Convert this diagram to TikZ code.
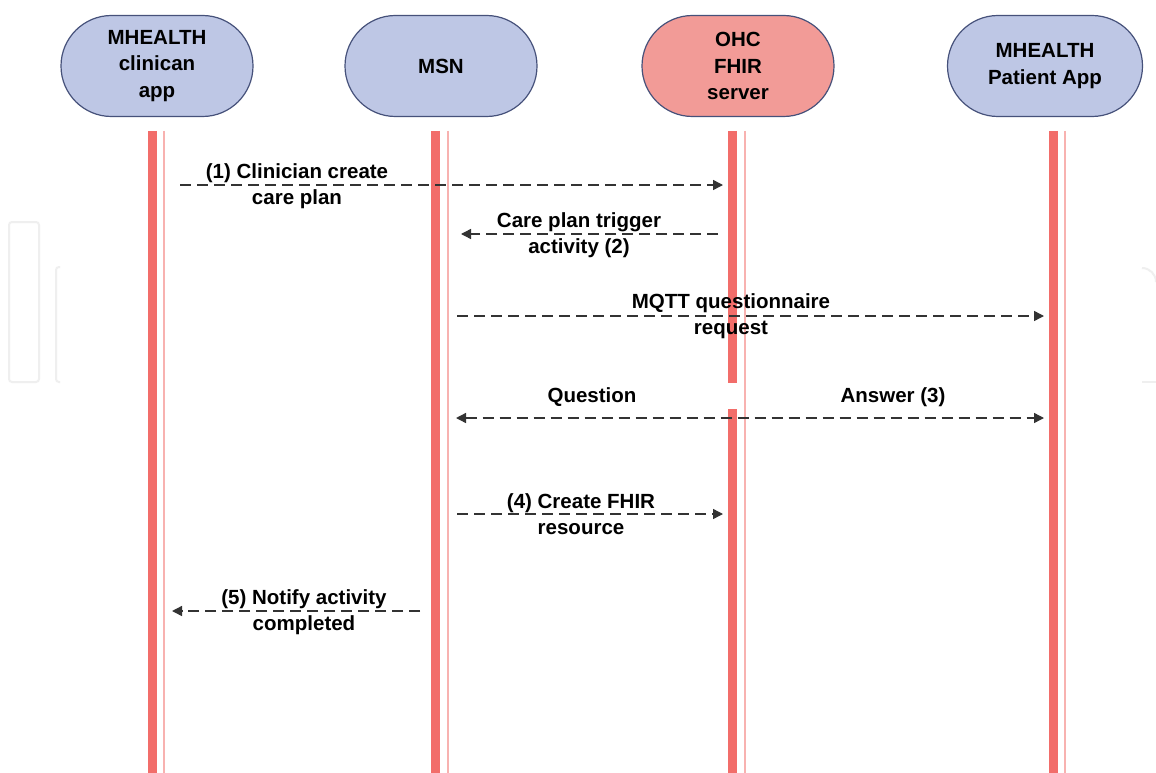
\documentclass[tikz,border=0pt]{standalone}
\usepackage{fontspec}
\setmainfont{Liberation Sans}
\usetikzlibrary{arrows.meta,shapes.misc}
\definecolor{hdrblue}{HTML}{BEC7E5}
\definecolor{hdrred}{HTML}{F29B97}
\definecolor{hdrline}{HTML}{46517A}
\definecolor{lifered}{HTML}{F26D6A}
\definecolor{lifethin}{HTML}{F8B2B0}
\definecolor{msgline}{HTML}{333333}
\definecolor{wmark}{HTML}{EFEFEF}
\tikzset{
  hdr/.style={rounded rectangle, draw=hdrline, line width=1.2pt, minimum width=192pt, minimum height=101pt, inner sep=0pt, align=center, font=\bfseries\fontsize{20.5}{26.5}\selectfont, text=black},
  lifebar/.style={draw=lifered, line width=9pt},
  lifeline/.style={draw=lifethin, line width=1.8pt},
  msg/.style={draw=msgline, line width=1.4pt, dash pattern=on 11pt off 6pt, -{Triangle[length=10pt,width=10pt]}},
  msgtwo/.style={draw=msgline, line width=1.4pt, dash pattern=on 11pt off 6pt, {Triangle[length=10pt,width=10pt]}-{Triangle[length=10pt,width=10pt]}},
  lbl/.style={align=center, font=\bfseries\fontsize{20.5}{26}\selectfont, text=black, inner sep=0pt},
}
\begin{document}
\begin{tikzpicture}[x=1pt,y=-1pt]
\useasboundingbox (0,0) rectangle (1156,773);
\fill[white] (0,0) rectangle (1156,773);
% faint watermark shapes
\draw[wmark, line width=2pt, rounded corners=3pt] (9,222) rectangle (39,382);
\draw[wmark, line width=2pt, rounded corners=3pt] (60,382) -- (56,382) -- (56,267) -- (60,267);
\draw[wmark, line width=2pt] (1142,268) arc[start angle=90, end angle=0, radius=14pt];
\draw[wmark, line width=2pt] (1142,382) -- (1156,382);
% headers
\node[hdr, fill=hdrblue] (c) at (157,66) {MHEALTH\\clinican\\app};
\node[hdr, fill=hdrblue] (m) at (441,66) {MSN};
\node[hdr, fill=hdrred] (o) at (738,66) {OHC\\FHIR\\server};
\node[hdr, fill=hdrblue, minimum width=195pt] (p) at (1045,66) {MHEALTH\\Patient App};
% lifelines
\coordinate (c1) at (152,131); \coordinate (c2) at (152,773);
\coordinate (m1) at (435.5,131); \coordinate (m2) at (435.5,773);
\coordinate (o1) at (732.5,131); \coordinate (o2) at (732.5,773);
\coordinate (p1) at (1053,131); \coordinate (p2) at (1053,773);
\draw[lifebar] (c1) -- (c2);
\draw[lifeline] ([xshift=12pt]c1) -- ([xshift=12pt]c2);
\draw[lifebar] (m1) -- (m2);
\draw[lifeline] ([xshift=12.5pt]m1) -- ([xshift=12.5pt]m2);
\draw[lifebar] (o1) -- ([yshift=-252pt]o1);
\draw[lifebar] ([yshift=-278pt]o1) -- (o2);
\draw[lifeline] ([xshift=12.5pt]o1) -- ([xshift=12.5pt]o2);
\draw[lifebar] (p1) -- (p2);
\draw[lifeline] ([xshift=12pt]p1) -- ([xshift=12pt]p2);
% message end points
\coordinate (a1s) at (180,185); \coordinate (a1e) at (723,185);
\coordinate (a2s) at (718,234); \coordinate (a2e) at (461,234);
\coordinate (a3s) at (457,316); \coordinate (a3e) at (1044,316);
\coordinate (a4s) at (456,418); \coordinate (a4e) at (1044,418);
\coordinate (a5s) at (457,514); \coordinate (a5e) at (723,514);
\coordinate (a6s) at (420,611); \coordinate (a6e) at (172,611);
% messages
\draw[msg] (a1s) -- (a1e);
\draw[msg] (a2s) -- (a2e);
\draw[msg] (a3s) -- (a3e);
\draw[msgtwo] (a4s) -- (a4e);
\draw[msg] (a5s) -- (a5e);
\draw[msg] (a6s) -- (a6e);
% labels
\node[lbl] (l1) at (297,186) {(1) Clinician create\\care plan};
\node[lbl] (l2) at (579,235) {Care plan trigger\\activity (2)};
\node[lbl] (l3) at (731,316) {MQTT questionnaire\\request};
\node[lbl] (l4a) at (592,397) {Question};
\node[lbl] (l4b) at (893,397) {Answer (3)};
\node[lbl] (l5) at (581,514) {(4) Create FHIR\\resource};
\node[lbl] (l6) at (304,612) {(5) Notify activity\\completed};
\end{tikzpicture}
\end{document}
